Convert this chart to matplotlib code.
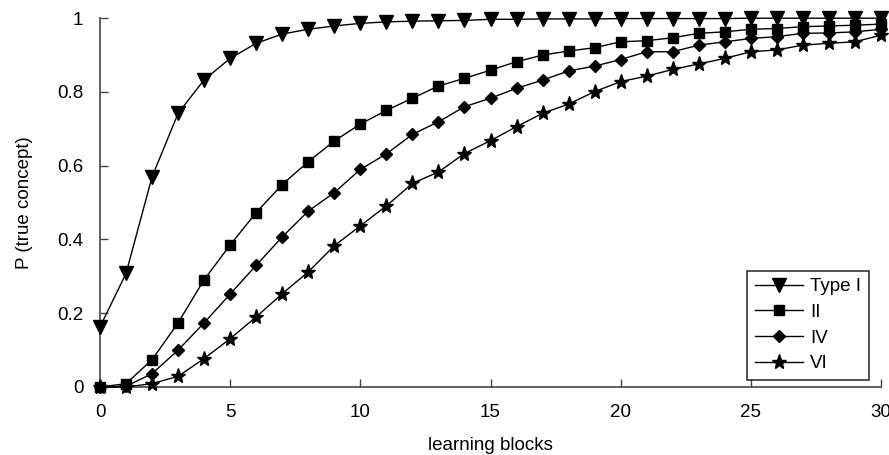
import numpy as np
import matplotlib.pyplot as plt

plt.rcParams['font.family'] = ['Liberation Sans', 'DejaVu Sans']

blocks = np.arange(0, 31)

type_1 = [0.163, 0.308, 0.570, 0.742, 0.833, 0.891, 0.932, 0.957, 0.970, 0.979,
          0.986, 0.990, 0.992, 0.993, 0.994, 0.997, 0.997, 0.998, 0.998, 0.998,
          0.999, 0.999, 0.999, 0.999, 0.999, 1.0, 1.0, 1.0, 1.0, 1.0, 1.0]
type_2 = [0.0, 0.009, 0.074, 0.174, 0.291, 0.385, 0.473, 0.549, 0.611, 0.667,
          0.713, 0.750, 0.783, 0.816, 0.837, 0.859, 0.882, 0.900, 0.911, 0.920,
          0.936, 0.939, 0.947, 0.959, 0.963, 0.970, 0.972, 0.977, 0.979, 0.981,
          0.984]
type_4 = [0.0, 0.002, 0.036, 0.100, 0.174, 0.252, 0.330, 0.407, 0.477, 0.527,
          0.590, 0.632, 0.685, 0.719, 0.760, 0.783, 0.810, 0.832, 0.857, 0.870,
          0.888, 0.909, 0.909, 0.927, 0.936, 0.945, 0.950, 0.959, 0.960, 0.963,
          0.970]
type_6 = [0.0, 0.0, 0.009, 0.029, 0.077, 0.131, 0.190, 0.253, 0.312, 0.383,
          0.437, 0.491, 0.552, 0.583, 0.633, 0.668, 0.706, 0.742, 0.767, 0.801,
          0.828, 0.843, 0.861, 0.876, 0.891, 0.909, 0.914, 0.927, 0.932, 0.936,
          0.954]

series = [
    (type_1, 'v', 10, 'Type I'),
    (type_2, 's', 6.5, 'II'),
    (type_4, 'D', 6.5, 'IV'),
    (type_6, '*', 11, 'VI'),
]

fs = 13.5

fig = plt.figure(figsize=(8.89, 4.55), dpi=100)
ax = fig.add_axes([0.1125, 0.1495, 0.8785, 0.8105])

for vals, mk, ms, lab in series:
    ax.plot(blocks, vals, color='black', lw=1, marker=mk, markersize=ms,
            label=lab, clip_on=False, zorder=3)

ax.set_xlim(0, 30)
ax.set_ylim(0, 1)
ax.set_xticks([0, 5, 10, 15, 20, 25, 30])
ax.set_yticks([0, 0.2, 0.4, 0.6, 0.8, 1.0])
ax.set_yticklabels(['0', '0.2', '0.4', '0.6', '0.8', '1'])

for side in ['top', 'right']:
    ax.spines[side].set_visible(False)
for side in ['left', 'bottom']:
    ax.spines[side].set_color('#444444')
    ax.spines[side].set_linewidth(1.2)

ax.tick_params(direction='in', length=6, width=1, color='#444444',
               labelsize=fs, pad=12)
ax.tick_params(axis='x', pad=12)

ax.set_xlabel('learning blocks', fontsize=fs, labelpad=12)
ax.set_ylabel('P (true concept)', fontsize=fs, labelpad=17)

lgd = ax.legend(loc='lower right', bbox_to_anchor=(0.984, 0.02),
                fontsize=fs, frameon=True, fancybox=False,
                handlelength=2.6, handletextpad=0.35, labelspacing=0.45,
                borderpad=0.4, borderaxespad=0)
lgd.get_frame().set_edgecolor('black')
lgd.get_frame().set_linewidth(1.2)

fig.savefig('out.png', dpi=100)
